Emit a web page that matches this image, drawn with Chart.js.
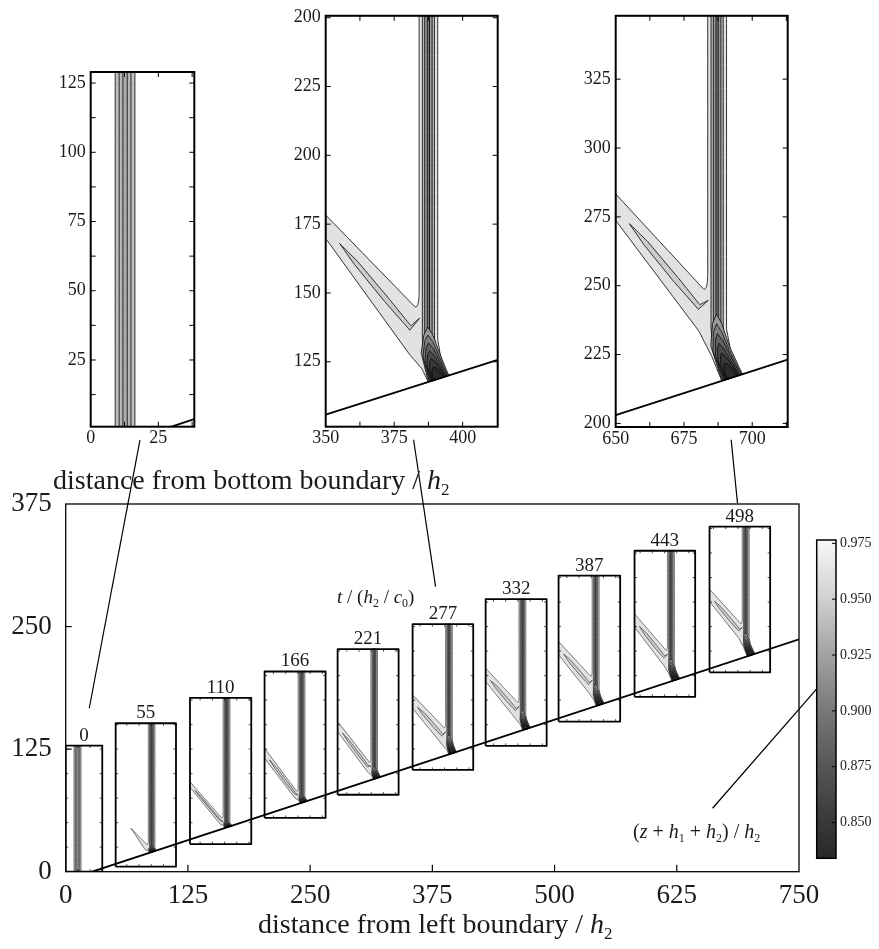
<!DOCTYPE html>
<html><head><meta charset="utf-8">
<script src="https://cdn.jsdelivr.net/npm/chart.js@4.4.1/dist/chart.umd.min.js"></script>
<style>
html,body{margin:0;padding:0;background:#fff;}
#wrap{position:relative;width:879px;height:949px;overflow:hidden;background:#fff;}
canvas{position:absolute;left:0;top:0;}
</style></head><body><div id="wrap">
<canvas id="main" width="879" height="949"></canvas>
<canvas id="p1" width="879" height="949"></canvas>
<canvas id="p2" width="879" height="949"></canvas>
<canvas id="p3" width="879" height="949"></canvas>
<canvas id="cb" width="879" height="949"></canvas>
</div>
<script>
// ================= DATA =================
// main chart axes
const mainXTicks = [0, 125, 250, 375, 500, 625, 750];
const mainYTicks = [0, 125, 250, 375];
// sloping bottom boundary (main coordinates)
const mainBoundaryX = [27, 750];
const mainBoundaryY = [0, 237];
// snapshot boxes
const snapshotTimes = [0, 55, 110, 166, 221, 277, 332, 387, 443, 498];
const boxLeft   = [0, 51.1, 127.1, 203.4, 278.1, 354.8, 429.5, 504.1, 581.8, 658.5];
const boxRight  = [37.4, 112.8, 189.8, 265.8, 340.5, 416.8, 491.9, 567.1, 643.8, 720.5];
const boxBottom = [0, 5.1, 28.2, 54.8, 78.5, 103.8, 128.3, 153.1, 178.3, 203.3];
const boxTop    = [128.6, 151.4, 177.2, 204.2, 226.9, 252.4, 277.9, 302.0, 327.3, 352.0];
// wave (density contour) structure in each box
const bandCentre      = [12.1, 87.9, 164.5, 241.2, 315.5, 392, 467.1, 542, 619, 695.5];
const bandHalfWidth   = [3.6, 3.4, 3.5, 3.5, 3.4, 3.5, 3.5, 3.6, 3.6, 3.6];
const footShift       = [0, 1.5, 2, 2.5, 3, 3.7, 4.2, 4.7, 5.1, 5.5];
const junctionHeight  = [0, 7, 9, 11, 16, 26, 27, 29, 30, 32];
const branchUpperLeft = [null, null, 91.8, 125.9, 153.1, 180.3, 207.6, 234.7, 263, 288.2];
const branchLowerLeft = [null, null, 86.1, 115.7, 142.9, 166.7, 193.9, 221.1, 249.4, 275.5];
const branchTipX      = [null, 66.8, null, null, null, null, null, null, null, null];
const branchTipY      = [null, 44.3, null, null, null, null, null, null, null, null];
const lowerEdgeHeight = [0, 2, 3, 4, 6, 8.4, 10, 12, 14, 16.8];
// leader lines (main coordinates)
const leaderX = [[76, 24.1], [355.8, 378.3], [680.6, 687.1], [767.9, 661.6]];
const leaderY = [[440.5, 166.7], [440.5, 290.8], [440.5, 375.9], [186.1, 64.7]];

// three enlarged panels
const panelXRange = [[0, 38.3], [350, 412.8], [650, 713]];
const panelYRange = [[0.9, 129], [101.4, 250.7], [198.7, 348]];
const panelXTicks = [[0, 12.5, 25, 37.5], [350, 362.5, 375, 387.5, 400, 412.5], [650, 662.5, 675, 687.5, 700, 712.5]];
const panelXLabelValues = [[0, 25], [350, 375, 400], [650, 675, 700]];
const panelXLabels = [['0', '25'], ['350', '375', '400'], ['650', '675', '700']];
const panelYTicks = [[12.5, 25, 37.5, 50, 62.5, 75, 87.5, 100, 112.5, 125], [125, 150, 175, 200, 225, 250], [200, 225, 250, 275, 300, 325]];
const panelYLabelValues = [[25, 50, 75, 100, 125], [125, 150, 175, 200, 225, 250], [200, 225, 250, 275, 300, 325]];
const panelYLabels = [['25', '50', '75', '100', '125'], ['125', '150', '175', '200', '225', '200'], ['200', '225', '250', '275', '300', '325']];
const panelBoundaryX = [[26.9, 38.3], [350, 412.8], [650, 713]];
const panelBoundaryY = [[0, 3.6], [105.8, 125.7], [203, 223.2]];
const panelBandCentre = [12.7, 387.5, 687.15];
const panelBandHalfWidth = [3.65, 3.4, 3.45];
const panelFootShift = [0, 3.7, 5.5];
const panelJunctionHeight = [0, 26, 32];
const panelBranchUpperLeft = [null, 178.3, 283.3];
const panelBranchLowerLeft = [null, 169.8, 273.7];
const panelLowerEdgeHeight = [0, 8.4, 16.8];

// colour bar
const cbMin = 0.834, cbMax = 0.9765;
const cbTicks = [0.85, 0.875, 0.9, 0.925, 0.95, 0.975];
const cbStopValues = [0.834, 0.85, 0.875, 0.9, 0.925, 0.95, 0.9765];
const cbStopGray   = [40, 56, 86, 120, 162, 208, 248];

// ================= LAYOUT (pixels) =================
const W = 879, H = 949;
const mainArea = {l: 65.7, t: 504, r: 799, b: 871.7};
const panelArea = [{l: 90.7, t: 72, r: 194.3, b: 426.7}, {l: 325.7, t: 15, r: 497.7, b: 426.7}, {l: 615.7, t: 15, r: 787.7, b: 427}];
const cbArea = {l: 816.7, t: 540, r: 836, b: 858.3};
const FONT = "'Liberation Serif','Times New Roman',serif";
Chart.defaults.font.family = FONT;
Chart.defaults.color = '#1a1a1a';

// ================= helpers =================
function lerp2(xs, ys, x) { return ys[0] + (ys[1] - ys[0]) * (x - xs[0]) / (xs[1] - xs[0]); }
function polySet(pts, fill, lw) {
  const closed = pts.concat([pts[0]]);
  return {data: closed.map(p => ({x: p[0], y: p[1]})), showLine: true, fill: fill ? 'shape' : false,
    backgroundColor: fill || 'rgba(0,0,0,0)', borderColor: '#000', borderWidth: lw,
    pointRadius: 0, pointHoverRadius: 0, tension: 1e-7, capBezierPoints: false, borderJoinStyle: 'round'};
}
function lineSet(pts, lw, noClip) {
  const s = {data: pts.map(p => ({x: p[0], y: p[1]})), showLine: true, fill: false,
    borderColor: '#000', borderWidth: lw, pointRadius: 0, pointHoverRadius: 0, tension: 0};
  if (noClip) s.clip = false;
  return s;
}
const DEF_FILLS = ['#e2e2e2', '#bababa', '#999999', '#777777'];
const INIT_FILLS = ['#c0c0c0', '#b6b6b6', '#acacac'];
const CHEV = ['#9a9a9a', '#7e7e7e', '#626262', '#4a4a4a', '#383838', '#2a2a2a'];

// builds the contour polygons of one snapshot
function waveSets(w, bx, by, lw) {
  const out = [];
  const yb = x => lerp2(bx, by, x);
  const poly = (pts, f) => out.push(polySet(pts, f, lw));
  const {x0, y0, y1, c, hw, shift, jH} = w;
  const fills = w.fills || DEF_FILLS;
  const fr = [1, 0.65, 0.4, 0.12], frF = [1.1, 0.85, 0.6, 0.25];
  if (!w.foot) {
    const frI = [1, 0.6, 0.22];
    frI.forEach((f, i) => poly([[c - hw * f, y1], [c - hw * f, y0], [c + hw * f, y0], [c + hw * f, y1]], fills[i]));
    return out;
  }
  const fc = c + shift, yF = yb(fc);
  const bendH = Math.max(0.55 * jH, 4);
  const S = [1, 0.6, 0.3, 0], SX = [0, 0.22, 0.55, 1];
  const edge = (h, hf, side) => {
    const pts = [[c + side * h, y1]];
    for (let k = 0; k < 3; k++) pts.push([c + shift * SX[k] + side * (hf + (h - hf) * S[k]), yF + bendH * S[k]]);
    const xf = fc + side * hf; pts.push([xf, yb(xf)]);
    return pts;
  };
  const centreAt = hg => {
    if (hg >= bendH) return c;
    const s = hg / bendH;
    for (let k = 0; k < 3; k++) if (s <= S[k] && s >= S[k + 1]) {
      const t = (s - S[k + 1]) / (S[k] - S[k + 1]);
      return c + shift * (SX[k + 1] + (SX[k] - SX[k + 1]) * t);
    }
    return fc;
  };
  const hf0 = hw * frF[0];
  const right = edge(hw, hf0, 1).reverse();
  const bl = c - hw, yU = yF + jH, uX = bl - 1.4;
  const L1 = [bl - 3.2, yF + w.lowH];
  const L2 = [bl - 0.4 + shift * 0.35, yF + w.lowH * 0.45];
  const xfL = fc - hf0;
  let outer = [[bl, y1], [bl, yU + 5], [bl - 0.12, yU + 2.6], [bl - 0.45, yU + 1.0], [bl - 0.9, yU + 0.2], [uX, yU]];
  if (w.up != null) outer.push([x0, w.up], [x0, w.lo]); else outer.push([w.tipX, w.tipY]);
  outer.push(L1, L2, [xfL, yb(xfL)]);
  poly(outer.concat(right), fills[0]);
  if (w.up != null) {
    const M0 = [x0, (w.up + w.lo) / 2], M1 = [(uX + L1[0]) / 2, (yU + L1[1]) / 2];
    const d = [M1[0] - M0[0], M1[1] - M0[1]], len = Math.hypot(d[0], d[1]);
    const n = [-d[1] / len, d[0] / len];
    const P = t => [M0[0] + d[0] * t, M0[1] + d[1] * t];
    const off = (p, k) => [p[0] + n[0] * k, p[1] + n[1] * k];
    const wd = (w.up - w.lo) * 0.11;
    poly([P(0.16), off(P(0.35), wd * 0.9), off(P(0.7), wd), off(P(0.96), wd * 0.8), [bl + 0.2, yU - 4],
          off(P(0.98), -wd * 0.6), off(P(0.7), -wd), off(P(0.35), -wd * 0.8)], '#cccccc');
  }
  for (let i = 1; i < 4; i++) {
    const h = hw * fr[i], hf = hw * frF[i];
    poly(edge(h, hf, -1).concat(edge(h, hf, 1).reverse()), fills[i]);
  }
  const A0 = Math.max(jH * 0.72, 6);
  CHEV.forEach((col, i) => {
    const a = A0 * (1 - i / (CHEV.length + 0.5));
    const b = (hw + 0.3) * (1 - i * 0.1);
    const hs = [0.5, 0.85], ws = [0.9, 0.45];
    const pts = [];
    const xl = centreAt(0) - b; pts.push([xl, yb(xl)]);
    for (let k = 0; k < 2; k++) pts.push([centreAt(a * hs[k]) - b * ws[k], yF + a * hs[k]]);
    pts.push([centreAt(a) - 0.2, yF + a]);
    for (let k = 1; k >= 0; k--) pts.push([centreAt(a * hs[k]) + b * ws[k], yF + a * hs[k]]);
    const xr = centreAt(0) + b; pts.push([xr, yb(xr)]);
    poly(pts, col);
  });
  return out;
}

// rich text with italics and subscripts
function drawRich(ctx, parts, x, y, size, align) {
  const fontOf = m => (m === 'i' ? 'italic ' : '') + (m === 's' ? Math.round(size * 0.62) : size) + 'px ' + FONT;
  let total = 0;
  parts.forEach(([t, m]) => { ctx.font = fontOf(m); total += ctx.measureText(t).width; });
  let cx = align === 'center' ? x - total / 2 : x;
  ctx.textAlign = 'left'; ctx.textBaseline = 'alphabetic';
  parts.forEach(([t, m]) => { ctx.font = fontOf(m); ctx.fillText(t, cx, m === 's' ? y + size * 0.22 : y); cx += ctx.measureText(t).width; });
}

// frame + inward ticks
const frameTicks = {
  id: 'frameTicks',
  afterDatasetsDraw(chart, args, o) {
    const {ctx, chartArea: a} = chart;
    ctx.save();
    ctx.strokeStyle = '#000'; ctx.lineWidth = o.tw || 1;
    const ln = (x1, y1, x2, y2) => { ctx.beginPath(); ctx.moveTo(x1, y1); ctx.lineTo(x2, y2); ctx.stroke(); };
    const xs = chart.scales.x, ys = chart.scales.y;
    if (xs && xs.options.display !== false) xs.ticks.forEach(t => {
      const p = xs.getPixelForValue(t.value);
      if (p < a.left + 1 || p > a.right - 1) return;
      if (o.bottom) ln(p, a.bottom, p, a.bottom - o.xLen);
      if (o.top) ln(p, a.top, p, a.top + o.xLen);
    });
    ys.ticks.forEach(t => {
      const p = ys.getPixelForValue(t.value);
      if (p < a.top + 1 || p > a.bottom - 1) return;
      if (o.left) ln(a.left, p, a.left + o.yLen, p);
      if (o.right) ln(a.right, p, a.right - o.yLen, p);
    });
    ctx.lineWidth = o.fw || 1.5;
    ctx.strokeRect(a.left, a.top, a.right - a.left, a.bottom - a.top);
    ctx.restore();
  }
};

// small tick marks on the snapshot boxes of the main chart
const boxTicks = {
  id: 'boxTicks',
  afterDatasetsDraw(chart) {
    const {ctx} = chart, xs = chart.scales.x, ys = chart.scales.y;
    ctx.save(); ctx.strokeStyle = '#000'; ctx.lineWidth = 0.7;
    const ln = (x1, y1, x2, y2) => { ctx.beginPath(); ctx.moveTo(x1, y1); ctx.lineTo(x2, y2); ctx.stroke(); };
    const L = 2.5;
    for (let i = 0; i < snapshotTimes.length; i++) {
      const l = xs.getPixelForValue(boxLeft[i]), r = xs.getPixelForValue(boxRight[i]);
      const b = ys.getPixelForValue(boxBottom[i]), t = ys.getPixelForValue(boxTop[i]);
      for (let v = Math.ceil(boxLeft[i] / 12.5) * 12.5; v < boxRight[i] - 1; v += 12.5) {
        if (v <= boxLeft[i] + 1) continue;
        const p = xs.getPixelForValue(v); ln(p, t, p, t + L); ln(p, b, p, b - L);
      }
      for (let v = Math.ceil(boxBottom[i] / 25) * 25; v < boxTop[i] - 1; v += 25) {
        if (v <= boxBottom[i] + 1) continue;
        const p = ys.getPixelForValue(v); ln(l, p, l + L, p); ln(r, p, r - L, p);
      }
    }
    ctx.restore();
  }
};

// labels and titles
const texts = {
  id: 'texts',
  afterDraw(chart) {
    const {ctx} = chart, xs = chart.scales.x, ys = chart.scales.y;
    ctx.save(); ctx.fillStyle = '#1a1a1a';
    ctx.font = '19px ' + FONT; ctx.textAlign = 'center'; ctx.textBaseline = 'alphabetic';
    snapshotTimes.forEach((t, i) => {
      ctx.fillText(String(t), xs.getPixelForValue((boxLeft[i] + boxRight[i]) / 2), ys.getPixelForValue(boxTop[i]) - 5);
    });
    drawRich(ctx, [['distance from bottom boundary / ', ''], ['h', 'i'], ['2', 's']], 53, 489, 28, 'left');
    drawRich(ctx, [['distance from left boundary / ', ''], ['h', 'i'], ['2', 's']], 258, 933, 28, 'left');
    drawRich(ctx, [['t', 'i'], [' / (', ''], ['h', 'i'], ['2', 's'], [' / ', ''], ['c', 'i'], ['0', 's'], [')', '']], 337, 603, 19, 'left');
    drawRich(ctx, [['(', ''], ['z', 'i'], [' + ', ''], ['h', 'i'], ['1', 's'], [' + ', ''], ['h', 'i'], ['2', 's'], [') / ', ''], ['h', 'i'], ['2', 's']], 633, 838, 20, 'left');
    ctx.restore();
  }
};

function fixedScales(area, xMin, xMax, yMin, yMax, xTicks, yTicks, xLab, yLab, font, xPad, yPad, xH, yW) {
  return {
    x: {type: 'linear', min: xMin, max: xMax, position: 'bottom',
      afterBuildTicks: s => { s.ticks = xTicks.map(v => ({value: v})); },
      ticks: {autoSkip: false, maxRotation: 0, minRotation: 0, padding: xPad, font: {size: font}, color: '#1a1a1a', callback: xLab},
      grid: {display: false, drawTicks: false}, border: {display: false},
      afterFit: s => { s.height = xH; }},
    y: {type: 'linear', min: yMin, max: yMax, position: 'left',
      afterBuildTicks: s => { s.ticks = yTicks.map(v => ({value: v})); },
      ticks: {autoSkip: false, padding: yPad, font: {size: font}, color: '#1a1a1a', callback: yLab},
      grid: {display: false, drawTicks: false}, border: {display: false},
      afterFit: s => { s.width = yW; }}
  };
}
function padFor(area, xH, yW) {
  return {left: area.l - yW, top: area.t, right: W - area.r, bottom: H - area.b - xH};
}

// ================= MAIN CHART =================
const paint = [];
for (let i = 0; i < snapshotTimes.length; i++) {
  const w = {x0: boxLeft[i], y0: boxBottom[i], y1: boxTop[i], c: bandCentre[i], hw: bandHalfWidth[i],
    shift: footShift[i], jH: junctionHeight[i], up: branchUpperLeft[i], lo: branchLowerLeft[i],
    tipX: branchTipX[i], tipY: branchTipY[i], lowH: lowerEdgeHeight[i], foot: i > 0, fills: i === 0 ? INIT_FILLS : null};
  waveSets(w, mainBoundaryX, mainBoundaryY, 0.5).forEach(s => paint.push(s));
}
paint.push(lineSet([[mainBoundaryX[0], mainBoundaryY[0]], [mainBoundaryX[1], mainBoundaryY[1]]], 1.8));
for (let i = 0; i < snapshotTimes.length; i++) {
  paint.push(polySet([[boxLeft[i], boxBottom[i]], [boxRight[i], boxBottom[i]], [boxRight[i], boxTop[i]], [boxLeft[i], boxTop[i]]], null, 1.8));
}
for (let i = 0; i < leaderX.length; i++) {
  paint.push(lineSet([[leaderX[i][0], leaderY[i][0]], [leaderX[i][1], leaderY[i][1]]], 1.2, true));
}
const mainXH = H - mainArea.b, mainYW = mainArea.l;
new Chart(document.getElementById('main'), {
  type: 'scatter',
  data: {datasets: paint.slice().reverse()},
  options: {
    responsive: false, animation: false, events: [],
    layout: {padding: {left: 0, top: mainArea.t, right: W - mainArea.r, bottom: 0}},
    scales: fixedScales(mainArea, 0, 750, 0, 375, mainXTicks, mainYTicks, v => String(v), v => String(v), 27, 8, 14, mainXH, mainYW),
    plugins: {legend: {display: false}, tooltip: {enabled: false},
      frameTicks: {bottom: true, left: true, xLen: 7, yLen: 6, tw: 1.2, fw: 1.3}}
  },
  plugins: [frameTicks, boxTicks, texts]
});

// ================= PANELS =================
for (let k = 0; k < 3; k++) {
  const area = panelArea[k];
  const xr = panelXRange[k], yr = panelYRange[k];
  const w = {x0: xr[0], y0: yr[0], y1: yr[1], c: panelBandCentre[k], hw: panelBandHalfWidth[k],
    shift: panelFootShift[k], jH: panelJunctionHeight[k], up: panelBranchUpperLeft[k], lo: panelBranchLowerLeft[k],
    tipX: null, tipY: null, lowH: panelLowerEdgeHeight[k], foot: k > 0, fills: k === 0 ? INIT_FILLS : null};
  const sets = waveSets(w, panelBoundaryX[k], panelBoundaryY[k], 0.8);
  sets.push(lineSet([[panelBoundaryX[k][0], panelBoundaryY[k][0]], [panelBoundaryX[k][1], panelBoundaryY[k][1]]], 1.8));
  const xv = panelXLabelValues[k], xl = panelXLabels[k], yv = panelYLabelValues[k], yl = panelYLabels[k];
  const xLab = v => { const j = xv.indexOf(v); return j >= 0 ? xl[j] : ''; };
  const yLab = v => { const j = yv.indexOf(v); return j >= 0 ? yl[j] : ''; };
  new Chart(document.getElementById('p' + (k + 1)), {
    type: 'scatter',
    data: {datasets: sets.reverse()},
    options: {
      responsive: false, animation: false, events: [],
      layout: {padding: padFor(area, 30, 50)},
      scales: fixedScales(area, xr[0], xr[1], yr[0], yr[1], panelXTicks[k], panelYTicks[k], xLab, yLab, 18, 1, 5, 30, 50),
      plugins: {legend: {display: false}, tooltip: {enabled: false},
        frameTicks: {bottom: true, top: true, left: true, right: true, xLen: 5, yLen: 5, tw: 1, fw: 2}}
    },
    plugins: [frameTicks]
  });
}

// ================= COLOUR BAR =================
new Chart(document.getElementById('cb'), {
  type: 'bar',
  data: {labels: [''], datasets: [{
    data: [[cbMin, cbMax]], barPercentage: 1, categoryPercentage: 1, borderWidth: 0,
    backgroundColor: c => {
      const ch = c.chart, ys = ch.scales.y;
      if (!ys || !ch.chartArea) return '#888';
      const g = ch.ctx.createLinearGradient(0, ys.getPixelForValue(cbMin), 0, ys.getPixelForValue(cbMax));
      cbStopValues.forEach((v, i) => g.addColorStop((v - cbMin) / (cbMax - cbMin), `rgb(${cbStopGray[i]},${cbStopGray[i]},${cbStopGray[i]})`));
      return g;
    }
  }]},
  options: {
    responsive: false, animation: false, events: [],
    layout: {padding: {left: cbArea.l, top: cbArea.t, right: 0, bottom: H - cbArea.b}},
    scales: {
      x: {display: false},
      y: {type: 'linear', position: 'right', min: cbMin, max: cbMax,
        afterBuildTicks: s => { s.ticks = cbTicks.map(v => ({value: v})); },
        ticks: {padding: 4, font: {size: 14}, color: '#1a1a1a', callback: v => v.toFixed(3)},
        grid: {display: false, drawTicks: false}, border: {display: false},
        afterFit: s => { s.width = W - cbArea.r; }}
    },
    plugins: {legend: {display: false}, tooltip: {enabled: false},
      frameTicks: {right: true, yLen: 4, tw: 1, fw: 1.5}}
  },
  plugins: [frameTicks]
});
</script>
</body></html>
